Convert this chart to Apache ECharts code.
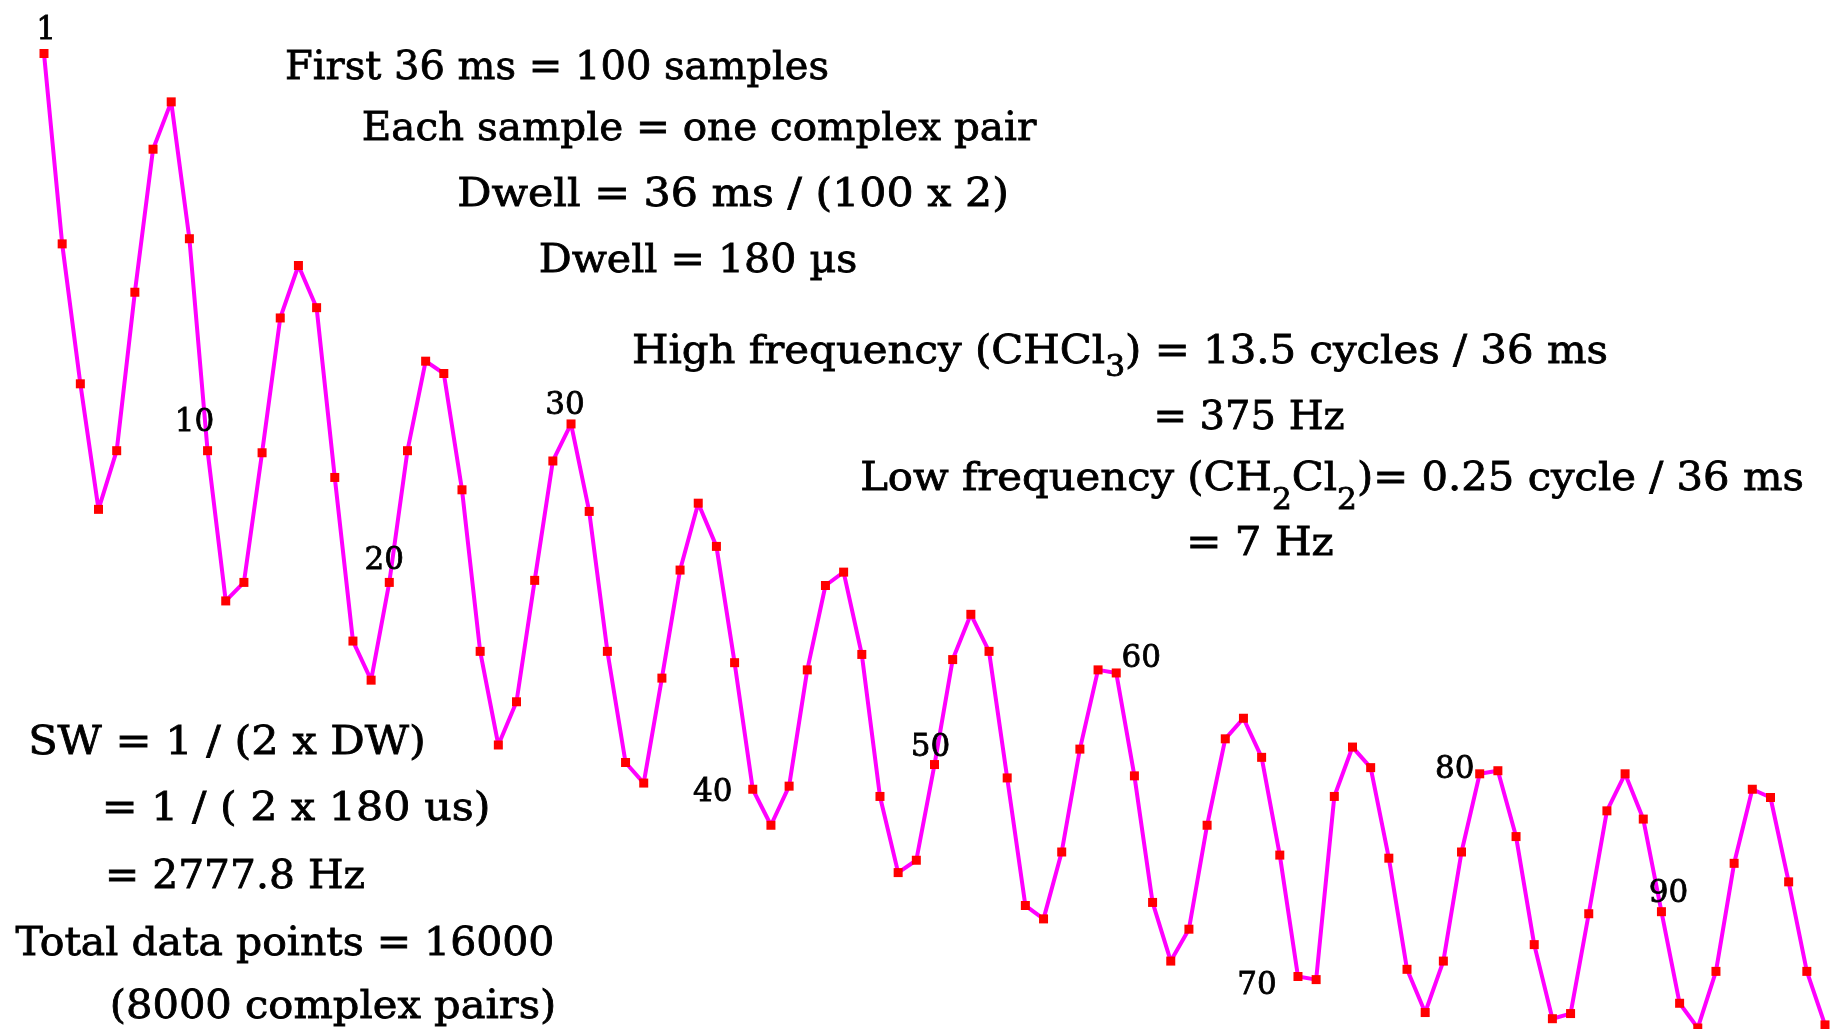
<!DOCTYPE html>
<html>
<head>
<meta charset="utf-8">
<script src="https://cdn.jsdelivr.net/npm/echarts@6/dist/echarts.min.js"></script>
<style>
html,body{margin:0;padding:0;background:#ffffff;}
#chart{width:1832px;height:1029px;}
</style>
</head>
<body>
<div id="chart"></div>
<script>
// ---- data ----
const sampleNumbers = [
  1,2,3,4,5,6,7,8,9,10,
  11,12,13,14,15,16,17,18,19,20,
  21,22,23,24,25,26,27,28,29,30,
  31,32,33,34,35,36,37,38,39,40,
  41,42,43,44,45,46,47,48,49,50,
  51,52,53,54,55,56,57,58,59,60,
  61,62,63,64,65,66,67,68,69,70,
  71,72,73,74,75,76,77,78,79,80,
  81,82,83,84,85,86,87,88,89,90,
  91,92,93,94,95,96,97,98,99
];
const amplitude = [
  94.8, 76.3, 62.7, 50.5, 56.2, 71.6, 85.5, 90.1, 76.8, 56.2,
  41.6, 43.4, 56.0, 69.1, 74.2, 70.1, 53.6, 37.7, 33.9, 43.4,
  56.2, 64.9, 63.7, 52.4, 36.7, 27.6, 31.8, 43.6, 55.2, 58.8,
  50.3, 36.7, 25.9, 23.9, 34.1, 44.6, 51.1, 46.9, 35.6, 23.3,
  19.8, 23.6, 34.9, 43.1, 44.4, 36.4, 22.6, 15.2, 16.4, 25.7,
  35.9, 40.3, 36.7, 24.4, 12.0, 10.7, 17.2, 27.2, 34.9, 34.6,
  24.6, 12.3, 6.6, 9.7, 19.8, 28.2, 30.2, 26.4, 16.9, 5.1,
  4.8, 22.6, 27.4, 25.4, 16.6, 5.8, 1.6, 6.6, 17.2, 24.8,
  25.1, 18.7, 8.2, 1.0, 1.5, 11.2, 21.2, 24.8, 20.4, 11.4,
  2.5, 0.1, 5.6, 16.1, 23.3, 22.5, 14.3, 5.6, 0.4
];
const labelledSamples = [1, 10, 20, 30, 40, 50, 60, 70, 80, 90];

const annotationTexts = [
  'First 36 ms = 100 samples',
  'Each sample = one complex pair',
  'Dwell = 36 ms / (100 x 2)',
  'Dwell = 180 µs',
  'High frequency (CHCl{a|3}) = 13.5 cycles / 36 ms',
  '= 375 Hz',
  'Low frequency (CH{b|2}Cl{b|2})= 0.25 cycle / 36 ms',
  '= 7 Hz',
  'SW = 1 / (2 x DW)',
  '= 1 / ( 2 x 180 us)',
  '= 2777.8 Hz',
  'Total data points = 16000',
  '(8000 complex pairs)'
];

// ---- style / layout ----
const FONT = 'DejaVu Serif';
const labelOffsets = {
  1: [2, -22.5], 10: [-13, -27.5], 20: [-5, -21.5], 30: [-6, -17.5], 40: [-40, 3.5],
  50: [-4, -16.5], 60: [25, -14.5], 70: [-41, 9.5], 80: [-25, -4], 90: [7, -17.5]
};
// [centre x, centre y, horizontal scale]
const annotationPos = [
  [557, 69, 1.0], [699, 130, 1.012], [733, 196, 1.068], [698, 262, 1.027],
  [1120, 353, 1.046], [1249, 419, 1.0], [1332, 480, 1.043], [1260, 545, 1.05],
  [227, 744, 1.076], [296, 810, 1.07], [235, 878, 1.02], [285, 945, 1.024], [333, 1008, 1.04]
];

const seriesData = amplitude.map(function (v, i) {
  const n = sampleNumbers[i];
  if (labelledSamples.indexOf(n) >= 0) {
    return {
      value: v,
      label: {
        show: true,
        position: 'inside',
        offset: labelOffsets[n],
        formatter: String(n),
        color: '#000',
        fontFamily: FONT,
        fontSize: 31,
        textBorderColor: '#000',
        textBorderWidth: 0.8,
        align: 'center',
        verticalAlign: 'middle'
      }
    };
  }
  return v;
});

const graphics = annotationTexts.map(function (t, i) {
  return {
    type: 'text',
    x: annotationPos[i][0],
    y: annotationPos[i][1],
    scaleX: annotationPos[i][2],
    silent: true,
    style: {
      text: t,
      fill: '#000',
      stroke: '#000',
      lineWidth: 0.8,
      fontFamily: FONT,
      fontSize: 40,
      align: 'center',
      verticalAlign: 'middle',
      rich: {
        a: { fontFamily: FONT, fontSize: 30, fill: '#000', stroke: '#000', lineWidth: 0.8, padding: [30, 0, 0, 0] },
        b: { fontFamily: FONT, fontSize: 30, fill: '#000', stroke: '#000', lineWidth: 0.8, padding: [42, 0, 0, 0] }
      }
    }
  };
});

const chart = echarts.init(document.getElementById('chart'), null, { renderer: 'canvas' });
chart.setOption({
  animation: false,
  backgroundColor: '#ffffff',
  grid: { left: 44, right: 7, top: 0, bottom: 0, containLabel: false },
  xAxis: { type: 'category', data: sampleNumbers, boundaryGap: false, show: false },
  yAxis: { type: 'value', min: 0, max: 100, show: false },
  series: [{
    type: 'line',
    data: seriesData,
    clip: false,
    symbol: 'rect',
    symbolSize: 9,
    showAllSymbol: true,
    lineStyle: { color: '#ff00ff', width: 4 },
    itemStyle: { color: '#ff0000' },
    emphasis: { disabled: true },
    z: 2
  }],
  graphic: graphics
});
</script>
</body>
</html>
